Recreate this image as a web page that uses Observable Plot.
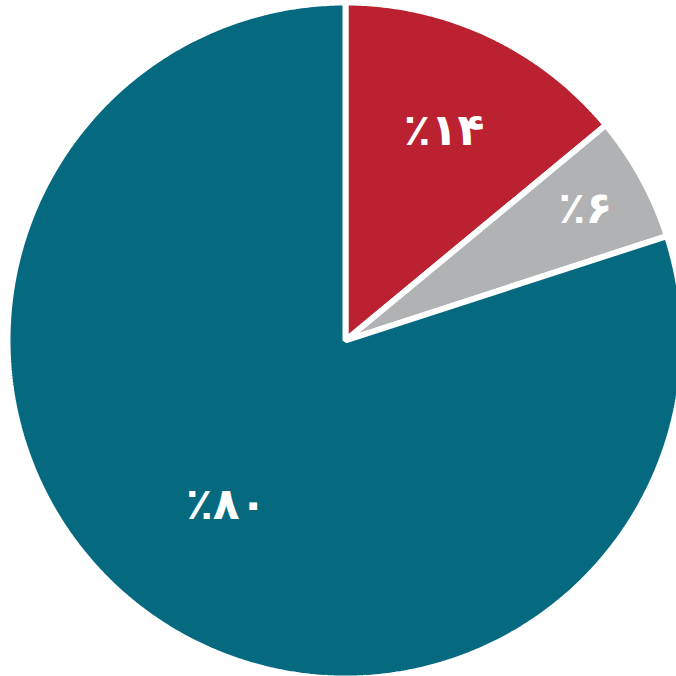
<!DOCTYPE html>
<html>
<head>
<meta charset="utf-8">
<script src="https://cdn.jsdelivr.net/npm/d3@7"></script>
<script src="https://cdn.jsdelivr.net/npm/@observablehq/plot@0.6"></script>
<style>
  html, body { margin: 0; padding: 0; background: #ffffff; }
  #chart { width: 676px; height: 676px; overflow: hidden; }
</style>
</head>
<body>
<div id="chart"></div>
<script>
// Data
const categories = ["A", "B", "C"];
const values = [14, 6, 80];
const labels = ["٪۱۴", "٪۶", "٪۸۰"];
const colors = ["#bb2130", "#b1b2b4", "#056a80"];

// Layout constants
const R = 338;
const labelRadiusFrac = [0.685, 0.81, 0.6];

const pie = d3.pie().sort(null).value(d => d.value);
const arcs = pie(categories.map((c, i) => ({cat: c, value: values[i]})));

// Build polygon vertices for each slice (angle 0 = up, clockwise)
const pts = [];
arcs.forEach((a, i) => {
  const cat = a.data.cat;
  pts.push({cat, x: 0, y: 0});
  const n = Math.max(2, Math.ceil((a.endAngle - a.startAngle) / (Math.PI / 360)));
  for (let k = 0; k <= n; k++) {
    const t = a.startAngle + (a.endAngle - a.startAngle) * k / n;
    pts.push({cat, x: R * Math.sin(t), y: R * Math.cos(t)});
  }
});

const labelData = arcs.map((a, i) => {
  const t = (a.startAngle + a.endAngle) / 2;
  const r = R * labelRadiusFrac[i];
  return {x: r * Math.sin(t), y: r * Math.cos(t), text: labels[i]};
});

const chart = Plot.plot({
  width: 676,
  height: 676,
  margin: 0,
  x: {domain: [-345, 331], axis: null},
  y: {domain: [-336, 340], axis: null},
  color: {domain: categories, range: colors},
  style: {background: "#ffffff"},
  marks: [
    Plot.line(pts, {
      x: "x", y: "y", z: "cat", fill: "cat",
      stroke: "#ffffff", strokeWidth: 6, strokeLinejoin: "miter",
      curve: "linear-closed"
    }),
    Plot.text(labelData, {
      x: "x", y: "y", text: "text",
      fill: "#ffffff", fontSize: 44, fontWeight: "bold",
      fontFamily: "DejaVu Sans"
    })
  ]
});
document.getElementById("chart").appendChild(chart);
</script>
</body>
</html>
